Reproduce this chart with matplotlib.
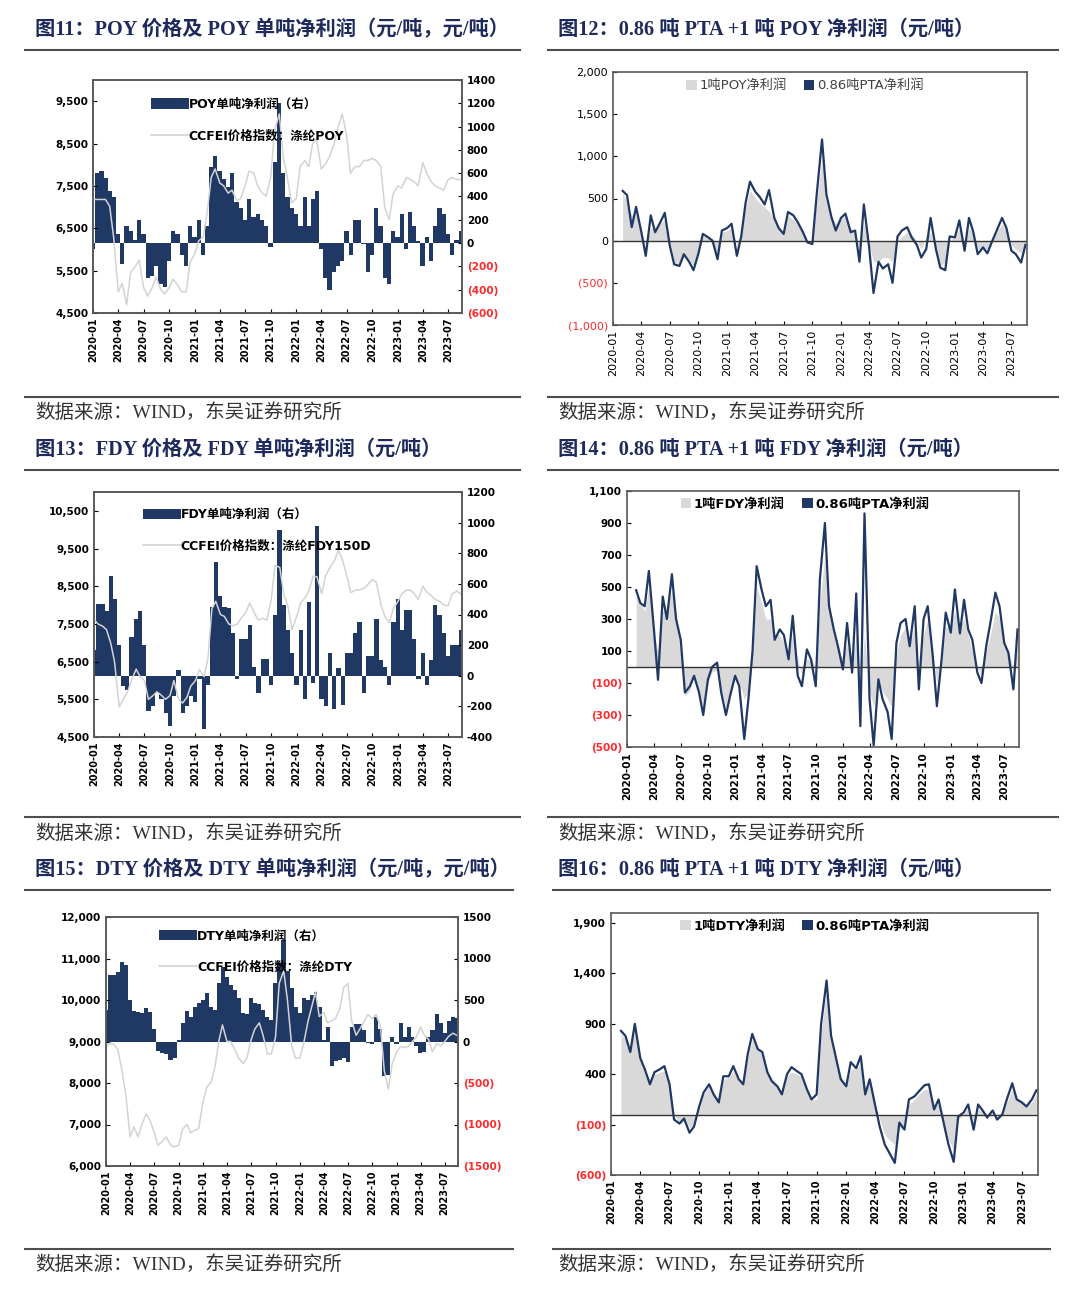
import numpy as np
import pandas as pd
from matplotlib import pyplot as plt
import matplotlib.dates as mdates
from matplotlib.lines import Line2D
from matplotlib.patches import Patch

plt.rcParams['font.family'] = ['DejaVu Sans', 'Noto Sans CJK SC']

####################################
#              Data                #
####################################
# semi-monthly sampling
dates_l = pd.date_range('2020-01-01', periods=88, freq='SMS')
dates_r = pd.date_range('2020-02-01', periods=86, freq='SMS')

# fig 11: POY
poy_profit = [-50, 600, 620, 560, 450, 400, 80, -180, 150, 100,
              30, 200, 80, -300, -280, -200, -350, -380, -150, 100,
              80, -100, -200, 150, 50, 200, -100, 150, 650, 750,
              620, 550, 480, 600, 350, 300, 200, 380, 220, 250,
              200, 150, -30, 700, 1200, 600, 400, 300, 250, 150,
              400, 150, 380, 450, -50, -300, -400, -250, -200, -150,
              100, -100, 200, 200, -10, -250, -100, 300, 150, -300,
              -350, 100, 50, 250, -50, 270, 150, 20, -200, 50,
              -150, 150, 300, 250, 80, -100, 30, 100]
poy_price = [7180, 7180, 7180, 7180, 7020, 6300, 5000, 5200, 4700, 5450,
             5600, 5750, 5100, 4900, 5100, 5350, 5050, 4950, 5100, 5300,
             5150, 5000, 5000, 5700, 5900, 6200, 6300, 6900, 7700, 7900,
             7570, 7500, 7330, 7400, 7150, 7200, 7500, 7850, 7800, 7500,
             7330, 7260, 7700, 8800, 9200, 8200, 7650, 7100, 7200, 7960,
             8100, 7950, 8500, 8600, 7900, 8000, 8200, 8450, 8900, 9200,
             8700, 7800, 7960, 7950, 8100, 8100, 8150, 8100, 7960, 7000,
             6700, 7300, 7500, 7450, 7700, 7650, 7600, 7500, 8050, 7800,
             7600, 7500, 7450, 7400, 7650, 7700, 7650, 7650]

# fig 12: 1t POY / 0.86t PTA
poy_net = [570, 450, 300, 350, 100, -50, 150, 150, 200, 250,
           0, -250, -280, -200, -220, -300, -100, 50, 50, -50,
           -150, 100, 120, 150, -50, 100, 400, 600, 500, 450,
           400, 350, 250, 150, 100, 300, 250, 200, 100, 0,
           -10, 450, 1000, 450, 300, 200, 250, 300, 150, 100,
           -100, 200, -50, -250, -250, -200, -200, -250, 0, 50,
           100, 80, 0, -100, 50, 100, -150, -300, -250, 0,
           50, 150, -50, 150, 80, -100, -80, -100, 0, 100,
           200, 100, -50, -100, -150, -50]
poy_pta = [590, 540, 160, 400, 100, -180, 300, 100, 220, 330,
           -60, -280, -300, -160, -250, -350, -150, 80, 40, 0,
           -220, 120, 150, 200, -180, 50, 450, 700, 580, 520,
           430, 600, 270, 150, 80, 340, 300, 220, 100, -20,
           -40, 550, 1200, 550, 280, 120, 270, 320, 100, 120,
           -250, 430, -80, -620, -250, -330, -280, -500, 50, 120,
           160, 40, -50, -200, -100, 270, -100, -320, -350, 50,
           40, 240, -120, 270, 100, -160, -80, -150, 0, 120,
           270, 150, -120, -160, -260, -50]

# fig 13: FDY
fdy_profit = [165, 470, 470, 420, 650, 500, 200, -70, -90, 250,
              370, 420, 200, -230, -200, -110, -150, -240, -330, -130,
              40, -240, -200, -130, -170, -20, -350, -60, 450, 740,
              520, 450, 440, 280, -20, 240, 240, 330, 60, -110,
              110, 110, -60, 400, 950, 460, 300, 150, -60, 300,
              -150, 480, -50, 980, -150, -200, 150, -220, 50, -190,
              150, 150, 280, 350, -110, 130, 130, 370, 100, 60,
              -60, 350, 500, 300, 430, 430, 240, -20, 150, -60,
              100, 460, 400, 280, 130, 200, 200, 300]
fdy_price = [7620, 7500, 7440, 7350, 7000, 6500, 5300, 5500, 5700, 6000,
             6300, 6100, 6000, 5500, 5600, 5700, 5600, 5500, 5600, 6000,
             5500, 5400, 5550, 5850, 6000, 6290, 6100, 6600, 7900, 8100,
             7750, 7700, 7500, 7450, 7500, 7650, 7800, 8050, 7800, 7600,
             7650, 7600, 8150, 9050, 9000, 8300, 7950, 7350, 7700, 8060,
             8200, 8400, 8770, 8750, 8300, 8770, 9000, 9150, 9450, 9200,
             8770, 8330, 8400, 8400, 8450, 8550, 8680, 8600, 8000, 7700,
             7530, 7900, 8100, 8300, 8400, 8400, 8300, 8150, 8500, 8350,
             8250, 8150, 8100, 8000, 7980, 8290, 8370, 8300]

# fig 14: 1t FDY / 0.86t PTA
fdy_net = [450, 400, 350, 500, 200, 100, 350, 350, 480, 350,
           100, -180, -150, -50, -150, -250, -100, -30, -20, -150,
           -250, -150, -80, -100, -200, -150, 100, 500, 400, 300,
           300, 200, 200, 150, 80, 200, 50, -50, 50, 50,
           0, 400, 700, 350, 200, 100, 50, 150, 0, 200,
           -100, 200, -150, -250, -100, -150, -200, -250, 80, 200,
           250, 150, 250, -50, 200, 300, 100, -100, 50, 250,
           250, 350, 250, 300, 200, 100, 0, -50, 100, 200,
           350, 300, 150, 100, 0, 150]
fdy_pta = [480, 400, 380, 600, 240, -80, 440, 300, 580, 300,
           170, -160, -120, -55, -160, -300, -77, 0, 27, -160,
           -300, -180, -55, -120, -450, -200, 100, 630, 480, 380,
           420, 170, 235, 200, 48, 320, -55, -120, 110, 48,
           -120, 550, 900, 380, 235, 130, -15, 275, -35, 460,
           -370, 960, -200, -490, -77, -200, -280, -450, 150, 275,
           300, 130, 380, -140, 300, 380, 70, -245, 50, 340,
           215, 485, 210, 420, 235, 170, -35, -100, 130, 275,
           465, 380, 150, 90, -140, 235]

# fig 15: DTY
dty_profit = [380, 800, 800, 840, 960, 920, 500, 370, 360, 340,
              400, 350, 150, -120, -140, -150, -220, -200, 20, 220,
              370, 300, 420, 460, 500, 580, 420, 380, 700, 900,
              780, 680, 620, 520, 340, 330, 520, 460, 450, 380,
              300, 260, 700, 950, 1220, 850, 650, 420, 340, 530,
              500, 560, 600, 420, 20, 170, -300, -230, -220, -200,
              -250, 170, 210, 210, 140, -20, -30, 300, 150, -420,
              -400, 50, -30, 220, 60, 180, 60, -60, -140, -130,
              50, 140, 330, 220, 100, 250, 300, 280]
dty_price = [8875, 8960, 8920, 8800, 8300, 7750, 6700, 6940, 6700, 7000,
             7260, 7100, 6800, 6500, 6600, 6700, 6500, 6460, 6500, 6880,
             7000, 6800, 6860, 6900, 7550, 7900, 8030, 8400, 9000, 9400,
             9000, 9000, 8800, 8600, 8470, 8600, 9040, 9300, 9450, 9150,
             8700, 8700, 9100, 10400, 10700, 10000, 8900, 8600, 8600, 8950,
             9500, 9850, 10200, 9600, 9700, 9450, 9500, 9550, 9800, 10300,
             10400, 9500, 9150, 9300, 9500, 9650, 9550, 9650, 9350, 8300,
             7850, 8470, 8750, 8880, 8850, 8900, 9000, 9100, 9350, 9150,
             9050, 8750, 8950, 8900, 9000, 9120, 9200, 9150]

# fig 16: 1t DTY / 0.86t PTA
dty_net = [800, 750, 650, 850, 550, 400, 350, 400, 420, 430,
           250, 0, -80, -40, -130, -100, 50, 200, 280, 200,
           150, 350, 370, 430, 330, 320, 550, 750, 650, 580,
           430, 350, 280, 220, 380, 420, 400, 380, 250, 150,
           150, 800, 1250, 800, 550, 380, 300, 450, 450, 500,
           250, 300, 100, -50, -200, -250, -300, -150, -100, 100,
           150, 200, 250, 250, 80, 100, -80, -250, -350, -50,
           0, 80, -80, 50, 30, 0, 20, 0, 20, 120,
           250, 150, 120, 100, 120, 200]
dty_pta = [830, 780, 620, 900, 560, 450, 300, 420, 450, 480,
           300, -50, -90, -40, -180, -120, 80, 220, 300, 200,
           120, 380, 380, 480, 350, 300, 600, 800, 650, 620,
           420, 330, 280, 200, 400, 470, 430, 400, 250, 150,
           200, 900, 1330, 780, 550, 350, 280, 520, 460, 580,
           200, 350, 90, -120, -300, -380, -480, -80, -150, 150,
           180, 230, 290, 300, 50, 150, -100, -300, -470, -20,
           20, 100, -150, 100, 40, -30, 40, -50, 0, 150,
           310, 150, 120, 80, 150, 240]

NAVY = '#203864'
GREY_LINE = '#d3d3d3'
GREY_FILL = '#d9d9d9'
RED = '#ff2a2a'
SPINE = '#595959'
TITLE_C = '#1f2a5c'
XLIM = (pd.Timestamp('2020-01-01'), pd.Timestamp('2023-08-20'))

fig = plt.figure(figsize=(10.8, 13.05), dpi=100)


def fx(px):
    return px / 1080.0


def fy(py):
    return 1 - py / 1305.0


def rect(x0, y0, x1, y1):
    return [fx(x0), fy(y1), fx(x1) - fx(x0), (y1 - y0) / 1305.0]


def paren(v, comma=True):
    s = '{:,.0f}'.format(abs(v)) if comma else '{:.0f}'.format(abs(v))
    if v < 0:
        return '(' + s + ')'
    return s


def set_yticks(ax, ticks, labels, size, weight, red_neg=True):
    ax.set_yticks(ticks)
    labs = ax.set_yticklabels(labels, fontsize=size, fontweight=weight)
    for t, lab in zip(ticks, labs):
        if red_neg and t < 0:
            lab.set_color(RED)


def date_axis(ax, size, weight):
    ax.set_xlim(XLIM)
    ax.xaxis.set_major_locator(mdates.MonthLocator(bymonth=[1, 4, 7, 10]))
    ax.xaxis.set_major_formatter(mdates.DateFormatter('%Y-%m'))
    plt.setp(ax.get_xticklabels(), rotation=90, fontsize=size, fontweight=weight)


def box(ax):
    for s in ax.spines.values():
        s.set_color(SPINE)
        s.set_linewidth(1.2)


####################################
#    Left: price + profit bars     #
####################################
def bar_panel(r, price, profit, bar_name, line_name, lim_l, ticks_l,
              lim_r, ticks_r, labels_r, red_neg, leg_xy):
    ax = fig.add_axes(r)
    ax2 = ax.twinx()
    ax2.fill_between(dates_l, 0, profit, step='mid', color=NAVY, lw=0)
    ax.plot(dates_l, price, color=GREY_LINE, lw=1.1)
    ax.set_zorder(ax2.get_zorder() + 1)
    ax.patch.set_visible(False)

    ax.set_ylim(lim_l)
    ax2.set_ylim(lim_r)
    set_yticks(ax, ticks_l, ['{:,.0f}'.format(t) for t in ticks_l], 7.5, 'bold')
    set_yticks(ax2, ticks_r, labels_r, 7.5, 'bold', red_neg)
    date_axis(ax, 7, 'bold')
    ax.tick_params(direction='in', length=3)
    ax2.tick_params(direction='in', length=3)
    box(ax)
    box(ax2)

    handles = [Patch(facecolor=NAVY, label=bar_name),
               Line2D([], [], color=GREY_LINE, lw=1.2, label=line_name)]
    ax.legend(handles=handles, loc='upper left', bbox_to_anchor=leg_xy,
              frameon=False, handlelength=3.0, handleheight=0.9,
              handletextpad=0.0, labelspacing=1.5, borderpad=0,
              prop={'weight': 'bold', 'size': 9})


####################################
#   Right: net profit area + line  #
####################################
def line_panel(r, net, pta, net_name, lim, ticks, weight, tsize, xsize, leg_xy):
    ax = fig.add_axes(r)
    ax.fill_between(dates_r, 0, net, color=GREY_FILL, lw=0)
    ax.plot(dates_r, pta, color=NAVY, lw=1.6)
    ax.axhline(0, color='#333333', lw=1.0)
    ax.set_ylim(lim)
    set_yticks(ax, ticks, [paren(t) for t in ticks], tsize, weight)
    date_axis(ax, xsize, weight)
    ax.tick_params(direction='in', length=3)
    box(ax)

    handles = [Patch(facecolor=GREY_FILL, label=net_name),
               Patch(facecolor=NAVY, label='0.86吨PTA净利润')]
    leg = ax.legend(handles=handles, loc='center', bbox_to_anchor=leg_xy, ncol=2,
                    frameon=False, handlelength=0.8, handleheight=0.8,
                    handletextpad=0.2, columnspacing=1.3, borderpad=0,
                    prop={'weight': weight, 'size': 9.5})
    if weight == 'normal':
        for t in leg.get_texts():
            t.set_color('#404040')


bar_panel(rect(93, 80, 462, 313), poy_price, poy_profit,
          'POY单吨净利润（右）', 'CCFEI价格指数：涤纶POY',
          (4500, 10000), list(range(4500, 10000, 1000)),
          (-600, 1400), list(range(-600, 1401, 200)),
          [paren(t, False) for t in range(-600, 1401, 200)], True, (0.141, 0.95))

bar_panel(rect(94, 492, 462, 737), fdy_price, fdy_profit,
          'FDY单吨净利润（右）', 'CCFEI价格指数：涤纶FDY150D',
          (4500, 11000), list(range(4500, 11000, 1000)),
          (-400, 1200), list(range(-400, 1201, 200)),
          [str(t) for t in range(-400, 1201, 200)], False, (0.117, 0.96))

bar_panel(rect(106, 917, 458, 1166), dty_price, dty_profit,
          'DTY单吨净利润（右）', 'CCFEI价格指数：涤纶DTY',
          (6000, 12000), list(range(6000, 12001, 1000)),
          (-1500, 1500), list(range(-1500, 1501, 500)),
          [paren(t, False) for t in range(-1500, 1501, 500)], True, (0.134, 0.975))

line_panel(rect(613, 72, 1027, 325), poy_net, poy_pta, '1吨POY净利润',
           (-1000, 2000), list(range(-1000, 2001, 500)), 'normal', 8, 8, (0.463, 0.945))

line_panel(rect(627, 491, 1019, 747), fdy_net, fdy_pta, '1吨FDY净利润',
           (-500, 1100), list(range(-500, 1101, 200)), 'bold', 7.5, 7.5, (0.454, 0.949))

line_panel(rect(611, 913, 1038, 1175), dty_net, dty_pta, '1吨DTY净利润',
           (-600, 2000), list(range(-600, 1901, 500)), 'bold', 7.5, 7, (0.454, 0.95))

####################################
#     Titles, rules and sources    #
####################################
titles = ['图11：POY 价格及 POY 单吨净利润（元/吨，元/吨）',
          '图12：0.86 吨 PTA +1 吨 POY 净利润（元/吨）',
          '图13：FDY 价格及 FDY 单吨净利润（元/吨）',
          '图14：0.86 吨 PTA +1 吨 FDY 净利润（元/吨）',
          '图15：DTY 价格及 DTY 单吨净利润（元/吨，元/吨）',
          '图16：0.86 吨 PTA +1 吨 DTY 净利润（元/吨）']
source = '数据来源：WIND，东吴证券研究所'
serif = ['Liberation Serif', 'Noto Sans CJK SC']

title_y = [30, 450, 870]
top_rule = [50, 470, 890]
bot_rule = [397, 817, 1249]
src_y = [413, 834, 1265]
left_span = [(25, 520), (25, 520), (25, 513)]
right_span = [(548, 1058), (548, 1058), (553, 1050)]

for row in range(3):
    fig.text(fx(35), fy(title_y[row]), titles[2 * row], family=serif,
             fontweight='bold', fontsize=14.6, color=TITLE_C, va='center')
    fig.text(fx(558), fy(title_y[row]), titles[2 * row + 1], family=serif,
             fontweight='bold', fontsize=14.6, color=TITLE_C, va='center')
    for span in (left_span[row], right_span[row]):
        for yy in (top_rule[row], bot_rule[row]):
            fig.add_artist(Line2D([fx(span[0]), fx(span[1])], [fy(yy), fy(yy)],
                                  color='#4d4d4d', lw=1.5, transform=fig.transFigure))
    fig.text(fx(35), fy(src_y[row]), source, family=serif, fontsize=14,
             color='#333333', va='center')
    fig.text(fx(558), fy(src_y[row]), source, family=serif, fontsize=14,
             color='#333333', va='center')

fig.savefig('out.png', dpi=100)
